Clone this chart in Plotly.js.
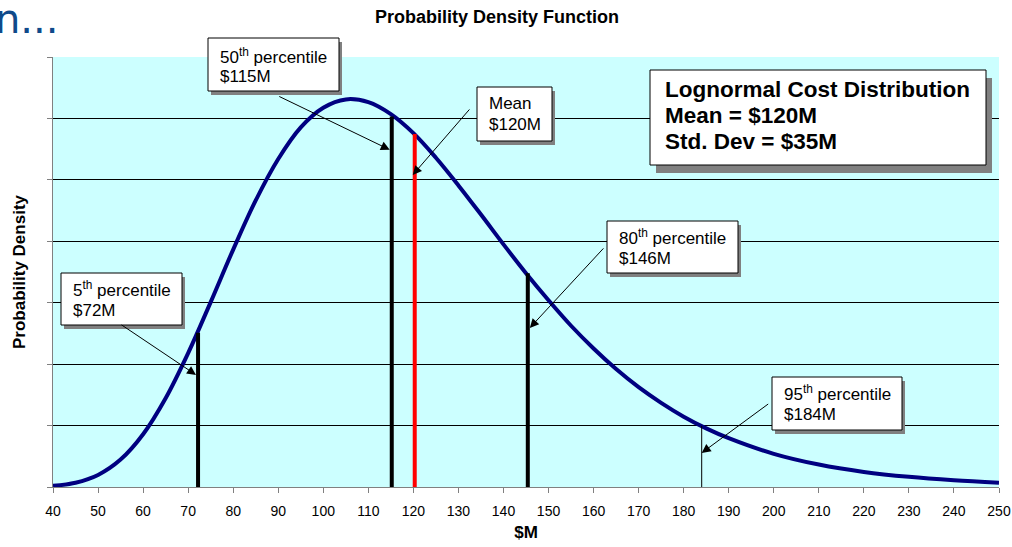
<!DOCTYPE html>
<html>
<head>
<meta charset="utf-8">
<script src="https://cdn.plot.ly/plotly-3.0.1.min.js"></script>
<style>
  html, body { margin: 0; padding: 0; background: #ffffff; }
  #chart { width: 1012px; height: 547px; }
</style>
</head>
<body>
<div id="chart"></div>
<script>
// ---- Data ----
const costM = [40,45,50,55,60,65,70,75,80,85,90,95,100,105,110,115,120,125,130,135,140,145,150,155,160,165,170,175,180,185,190,200,210,220,230,240,250];
const density = [0.000037,0.000139,0.000392,0.000892,0.001717,0.00289,0.00436,0.00602,0.00773,0.00933,0.01068,0.01171,0.01235,0.01262,0.01253,0.01214,0.01152,0.01072,0.00982,0.00887,0.00790,0.00696,0.00608,0.00525,0.00451,0.00384,0.00325,0.00274,0.00229,0.00191,0.00159,0.00108,0.00073,0.00049,0.00033,0.00022,0.00014];

const markerNames = ['5th percentile','50th percentile','Mean','80th percentile','95th percentile'];
const markerX = [72.2, 115.2, 120.3, 145.4, 184.0];
const markerTop = [0.00502, 0.01206, 0.01149, 0.00696, 0.00199];
const markerLabel1 = ['5<sup>th</sup> percentile','50<sup>th</sup> percentile','Mean','80<sup>th</sup> percentile','95<sup>th</sup> percentile'];
const markerLabel2 = ['$72M','$115M','$120M','$146M','$184M'];
const markerColor = ['#000000','#000000','#ff0000','#000000','#000000'];
const markerWidth = [4,4,4,4,1];

const infoLines = ['Lognormal Cost Distribution','Mean = $120M','Std. Dev = $35M'];

const xTicks = [40,50,60,70,80,90,100,110,120,130,140,150,160,170,180,190,200,210,220,230,240,250];

// ---- Layout helpers (pixel -> paper) ----
const L = 53, R = 999, T = 57, B = 487;
const px = v => (v - L) / (R - L);
const py = v => (B - v) / (B - T);
const FONT = 'Liberation Sans, Arial, sans-serif';

const traces = [{
  x: costM, y: density, type: 'scatter', mode: 'lines',
  line: { color: '#000080', width: 4, shape: 'spline', smoothing: 1 },
  hoverinfo: 'skip', showlegend: false
}];
markerX.forEach((mx, i) => {
  traces.push({
    x: [mx, mx], y: [0, markerTop[i]], type: 'scatter', mode: 'lines',
    line: { color: markerColor[i], width: markerWidth[i] },
    name: markerNames[i], hoverinfo: 'skip', showlegend: false
  });
});

const shapes = [];
const annotations = [];
function box(x0, y0, x1, y1, sdx, sdy) {
  shapes.push({ type: 'rect', xref: 'paper', yref: 'paper', layer: 'above',
    x0: px(x0 + sdx), x1: px(x1 + sdx), y0: py(y1 + sdy), y1: py(y0 + sdy),
    fillcolor: '#808080', line: { width: 0 } });
  shapes.push({ type: 'rect', xref: 'paper', yref: 'paper', layer: 'above',
    x0: px(x0), x1: px(x1), y0: py(y1), y1: py(y0),
    fillcolor: '#ffffff', line: { color: '#000000', width: 1 } });
}
function textLine(txt, left, cy, size, bold) {
  annotations.push({ xref: 'paper', yref: 'paper', x: px(left), y: py(cy),
    xanchor: 'left', yanchor: 'middle', showarrow: false, borderpad: 0,
    text: bold ? '<b>' + txt + '</b>' : txt,
    font: { family: FONT, size: size, color: '#000000' } });
}

// callout boxes: [x0,y0,x1,y1], text left, line centres
const boxes = [
  { r: [61,273,182,325], left: 72, c: [289, 310] },
  { r: [208,38,339,91], left: 219, c: [56, 76.5] },
  { r: [477,87,552,141], left: 488, c: [103.5, 125] },
  { r: [607,221,738,273], left: 618, c: [237, 258] },
  { r: [772,377,902,430], left: 783, c: [393, 414.5] }
];
// arrow heads (data y) and tail offsets (px)
const heads = [
  { y: 0.00365, ax: -76, ay: -51, xs: -2 },
  { y: 0.01098, ax: -112, ay: -54, xs: -2 },
  { y: 0.01016, ax: 58, ay: -67, xs: -2 },
  { y: 0.00518, ax: 75, ay: -81, xs: 2 },
  { y: 0.00111, ax: 68, ay: -50, xs: 0 }
];
boxes.forEach((b, i) => {
  box(b.r[0], b.r[1], b.r[2], b.r[3], 3, 4);
  textLine(markerLabel1[i], b.left, b.c[0], 17, false);
  textLine(markerLabel2[i], b.left, b.c[1], 17, false);
  const h = heads[i];
  annotations.push({ xref: 'x', yref: 'y', x: markerX[i], y: h.y, xshift: h.xs,
    ax: h.ax, ay: h.ay, axref: 'pixel', ayref: 'pixel', text: '', showarrow: true,
    arrowhead: 2, arrowsize: 1.8, arrowwidth: 1, arrowcolor: '#000000', standoff: 0 });
});

box(650, 70, 986, 165, 6, 8);
textLine(infoLines[0], 664, 89, 22.5, true);
textLine(infoLines[1], 664, 115, 22.5, true);
textLine(infoLines[2], 664, 141, 22.5, true);

// cropped slide-title fragment at top-left
annotations.push({ xref: 'paper', yref: 'paper', x: px(-6), y: py(19), xanchor: 'left', yanchor: 'middle',
  showarrow: false, text: 'n...', borderpad: 0,
  font: { family: 'DejaVu Sans, Verdana, sans-serif', size: 40, color: '#0f4a8a' } });

const layout = {
  width: 1012, height: 547,
  margin: { l: L, r: 1012 - R, t: T, b: 547 - B, pad: 0 },
  paper_bgcolor: '#ffffff', plot_bgcolor: '#ccffff',
  font: { family: FONT, color: '#000000' },
  title: { text: '<b>Probability Density Function</b>', x: 497 / 1012, xref: 'container', xanchor: 'center',
    y: 1 - 17 / 547, yref: 'container', yanchor: 'middle', font: { family: FONT, size: 18, color: '#000000' } },
  xaxis: {
    range: [40, 250], tickvals: xTicks, ticktext: xTicks.map(String),
    ticks: 'outside', ticklen: 5, tickcolor: '#808080', showline: true, linecolor: '#808080', linewidth: 1,
    showgrid: false, zeroline: false, ticklabelstandoff: 6,
    tickfont: { family: FONT, size: 14, color: '#000000' },
    title: { text: '<b>$M</b>', standoff: 8, font: { family: FONT, size: 17, color: '#000000' } },
    fixedrange: true
  },
  yaxis: {
    range: [0, 0.014], dtick: 0.002, tick0: 0, showticklabels: false,
    ticks: 'outside', ticklen: 5, tickcolor: '#808080', showline: true, linecolor: '#808080', linewidth: 1,
    showgrid: true, gridcolor: '#000000', gridwidth: 1, zeroline: false,
    title: { text: '<b>Probability Density</b>', standoff: 17, font: { family: FONT, size: 17, color: '#000000' } },
    fixedrange: true
  },
  shapes: shapes,
  annotations: annotations,
  showlegend: false
};

Plotly.newPlot('chart', traces, layout, { displayModeBar: false, staticPlot: true });
</script>
</body>
</html>
